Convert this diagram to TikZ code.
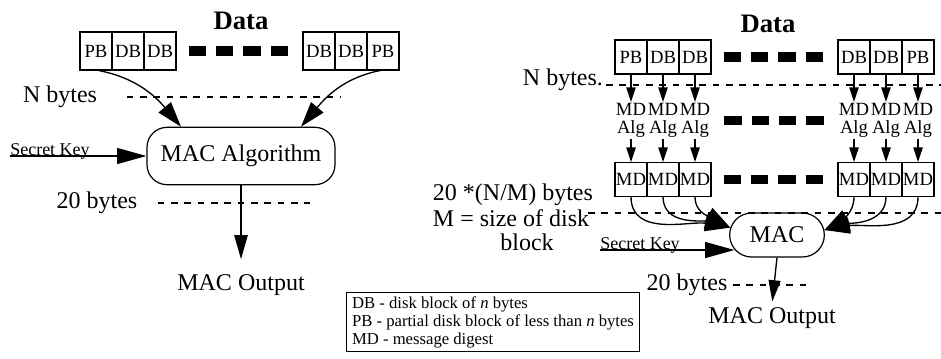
\documentclass[tikz,border=0pt]{standalone}
\usepackage{fontspec}
\setmainfont{Liberation Serif}
\usetikzlibrary{arrows.meta, positioning, shapes.misc}

\tikzset{
  cell/.style={draw, rectangle, line width=0.9pt, minimum width=24pt, minimum height=28.5pt, inner sep=0pt, outer sep=0pt, font=\fontsize{14}{16}\selectfont},
  smallcell/.style={cell, minimum height=25.5pt},
  lbl/.style={inner sep=2pt, font=\fontsize{18}{20}\selectfont},
  heading/.style={inner sep=1pt, font=\fontsize{20}{22}\selectfont\bfseries},
  mdalg/.style={align=center, inner sep=1pt, font=\fontsize{14}{13.5}\selectfont},
  keytext/.style={inner sep=0pt, text depth=0pt, font=\fontsize{13.5}{15}\selectfont},
  macbox/.style={draw, line width=0.9pt, inner sep=2pt, font=\fontsize{18}{20}\selectfont},
  legendbox/.style={draw, line width=0.8pt, align=left, inner xsep=4pt, inner ysep=3pt, font=\fontsize{12.5}{13.5}\selectfont},
  blockdash/.style={line width=7pt, dash pattern=on 13pt off 7.5pt, shorten <=9.5pt, shorten >=9.5pt},
  guide/.style={line width=0.9pt, dash pattern=on 5pt off 5pt},
  bigarrow/.style={-{Triangle[length=19pt, width=12pt]}, line width=1pt},
  smallarrow/.style={-{Triangle[length=11pt, width=7pt]}, line width=1pt},
  outarrow/.style={-{Triangle[length=18pt, width=10pt]}, line width=1pt}
}

\begin{document}
\begin{tikzpicture}[x=0.75pt, y=0.75pt]
  \useasboundingbox (0,0) rectangle (941,-358);

  % ---- single MAC over the whole data ----
  \node [heading] (dataL) at (241,-21) {Data};
  \node [cell, anchor=west] (lpb1) at (80,-51) {PB};
  \node [cell, right=0pt of lpb1] (ldb1) {DB};
  \node [cell, right=0pt of ldb1] (ldb2) {DB};
  \node [cell, anchor=west] (ldb3) at (303,-51) {DB};
  \node [cell, right=0pt of ldb3] (ldb4) {DB};
  \node [cell, right=0pt of ldb4] (lpb2) {PB};
  \draw [blockdash] (ldb2.east) -- (ldb3.west);

  \node [lbl] (nbL) at (60,-97) {N bytes};
  \coordinate (gNL) at (340,-97);
  \draw [guide, shorten <=20pt] (nbL.east) -- (gNL);

  \node [macbox, rounded corners=15pt, minimum width=141pt, minimum height=43pt] (macL) at (241,-156) {MAC Algorithm};
  \draw [bigarrow] (lpb1.south) to[out=-10, in=130] (macL.154);
  \draw [bigarrow] (lpb2.south) to[out=190, in=50] (macL.26);

  \node [keytext, anchor=south west] (keyL) at (10,-156) {Secret Key};
  \draw [bigarrow, -{Triangle[length=22pt, width=12pt]}] (keyL.south west) -- (keyL.south west -| macL.west);

  \node [lbl] (bL) at (97,-203) {20 bytes};
  \coordinate (g20L) at (310,-203);
  \draw [guide, shorten <=13pt] (bL.east) -- (g20L);

  \node [lbl, anchor=base] (outL) at (241,-290) {MAC Output};
  \draw [outarrow, shorten >=9pt] (macL.south) -- (outL.north);

  % ---- one digest per disk block ----
  \node [heading] (dataR) at (768,-24) {Data};
  \node [smallcell, anchor=west] (rpb1) at (615,-57) {PB};
  \node [smallcell, right=0pt of rpb1] (rdb1) {DB};
  \node [smallcell, right=0pt of rdb1] (rdb2) {DB};
  \node [smallcell, anchor=west] (rdb3) at (838,-57) {DB};
  \node [smallcell, right=0pt of rdb3] (rdb4) {DB};
  \node [smallcell, right=0pt of rdb4] (rpb2) {PB};
  \draw [blockdash] (rdb2.east) -- (rdb3.west);

  \node [lbl, anchor=base west] (nbR) at (520,-85) {N bytes.};
  \coordinate (gNR) at (941,-85);
  \draw [guide] (nbR.base east) -- (gNR);

  \node [mdalg, below=21pt of rpb1] (mdl1) {MD\\Alg};
  \node [mdalg, below=21pt of rdb1] (mdl2) {MD\\Alg};
  \node [mdalg, below=21pt of rdb2] (mdl3) {MD\\Alg};
  \node [mdalg, below=21pt of rdb3] (mdl4) {MD\\Alg};
  \node [mdalg, below=21pt of rdb4] (mdl5) {MD\\Alg};
  \node [mdalg, below=21pt of rpb2] (mdl6) {MD\\Alg};
  \draw [blockdash] (mdl3.east) -- (mdl4.west);

  \draw [smallarrow] (rpb1.south) -- (mdl1.north);
  \draw [smallarrow] (rdb1.south) -- (mdl2.north);
  \draw [smallarrow] (rdb2.south) -- (mdl3.north);
  \draw [smallarrow] (rdb3.south) -- (mdl4.north);
  \draw [smallarrow] (rdb4.south) -- (mdl5.north);
  \draw [smallarrow] (rpb2.south) -- (mdl6.north);

  \node [smallcell, minimum height=26pt, below=17pt of mdl1] (mdc1) {MD};
  \node [smallcell, minimum height=26pt, right=0pt of mdc1] (mdc2) {MD};
  \node [smallcell, minimum height=26pt, right=0pt of mdc2] (mdc3) {MD};
  \node [smallcell, minimum height=26pt, below=17pt of mdl4] (mdc4) {MD};
  \node [smallcell, minimum height=26pt, right=0pt of mdc4] (mdc5) {MD};
  \node [smallcell, minimum height=26pt, right=0pt of mdc5] (mdc6) {MD};
  \draw [blockdash] (mdc3.east) -- (mdc4.west);

  \draw [smallarrow] (mdl1.south) -- (mdc1.north);
  \draw [smallarrow] (mdl2.south) -- (mdc2.north);
  \draw [smallarrow] (mdl3.south) -- (mdc3.north);
  \draw [smallarrow] (mdl4.south) -- (mdc4.north);
  \draw [smallarrow] (mdl5.south) -- (mdc5.north);
  \draw [smallarrow] (mdl6.south) -- (mdc6.north);

  \node [lbl, anchor=west] (nm1) at (430,-195) {20 *(N/M) bytes};
  \node [lbl, anchor=west] (nm2) at (430,-218) {M = size of disk};
  \node [lbl] (nm3) at (527,-242) {block};
  \coordinate (gMa) at (588,-213);
  \coordinate (gMb) at (941,-213);
  \draw [guide] (gMa) -- (gMb);

  \node [macbox, rounded rectangle, minimum width=75pt, minimum height=33pt] (macR) at (777,-235) {MAC};
  \draw [bigarrow] (mdc1.south) to[out=-90, in=170] (macR.171);
  \draw [bigarrow] (mdc2.south) to[out=-90, in=165] (macR.171);
  \draw [bigarrow] (mdc3.south) to[out=-90, in=150] (macR.171);
  \draw [bigarrow] (mdc4.south) to[out=-90, in=30] (macR.6);
  \draw [bigarrow] (mdc5.south) to[out=-90, in=15] (macR.6);
  \draw [bigarrow] (mdc6.south) to[out=-90, in=10] (macR.6);

  \node [keytext, anchor=south west] (keyR) at (600,-250) {Secret Key};
  \draw [bigarrow, -{Triangle[length=22pt, width=12pt]}, shorten >=-4pt] (keyR.south west) -- (keyR.south west -| macR.west);

  \node [lbl] (bR) at (687,-285) {20 bytes};
  \coordinate (g20R) at (807,-285);
  \draw [guide, shorten <=2pt] (bR.east) -- (g20R);

  \node [lbl, anchor=base] (outR) at (772,-323) {MAC Output};
  \draw [outarrow, -{Triangle[length=16pt, width=9pt]}, shorten >=2pt] (macR.south) -- (outR.north);

  \node [legendbox] (legend) at (493,-322) {DB - disk block of \textit{n} bytes\\PB - partial disk block of less than \textit{n} bytes\\MD - message digest};
\end{tikzpicture}
\end{document}
